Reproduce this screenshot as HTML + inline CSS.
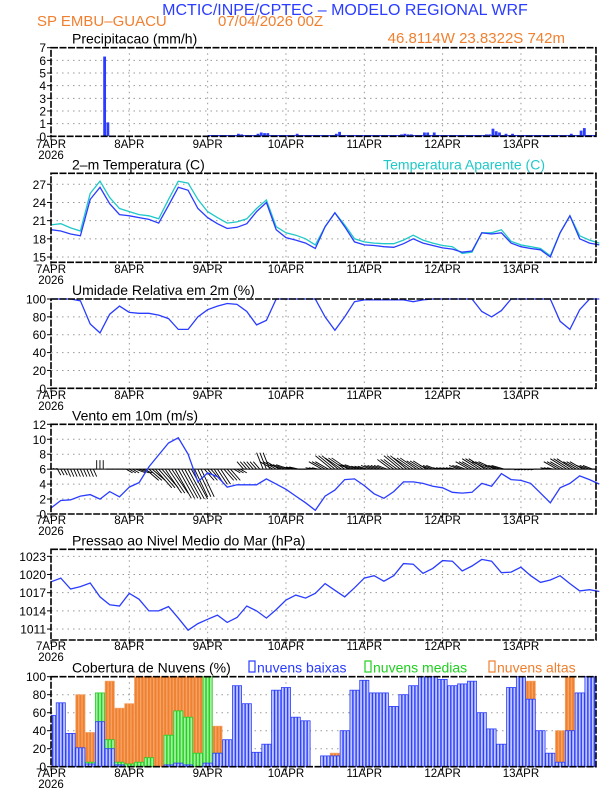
<!DOCTYPE html>
<html><head><meta charset="utf-8">
<style>
html,body{margin:0;padding:0;background:#fff;}
svg{display:block;font-family:"Liberation Sans",sans-serif;}
</style></head>
<body>
<svg id="chart" width="612" height="792" viewBox="0 0 612 792" xmlns="http://www.w3.org/2000/svg">
<text x="345" y="15" font-size="16" fill="#2a3cff" text-anchor="middle">MCTIC/INPE/CPTEC – MODELO REGIONAL WRF</text>
<text x="37" y="26" font-size="15" fill="#f08030">SP EMBU–GUACU</text>
<text x="218" y="26" font-size="15" fill="#f08030">07/04/2026 00Z</text>
<text x="565" y="43" font-size="15" fill="#f08030" text-anchor="end">46.8114W 23.8322S 742m</text>
<g id="plots"></g>
</svg>
<script>
// ---- data (time in hours from 07APR 00Z) ----
const hours3 = [0,3,6,9,12,15,18,21,24,27,30,33,36,39,42,45,48,51,54,57,60,63,66,69,72,75,78,81,84,87,90,93,96,99,102,105,108,111,114,117,120,123,126,129,132,135,138,141,144,147,150,153,156,159,162,165,168];
const dayLabels = ["7APR","8APR","9APR","10APR","11APR","12APR","13APR"];
const precipHours = [16,17,53,57,58,63,64,65,66,75,87,88,99,107,108,109,110,114,115,116,117,131,132,133,134,135,136,137,139,141,159,162,163];
const precipVals  = [6.3,1.1,0.1,0.2,0.15,0.2,0.3,0.25,0.25,0.2,0.2,0.35,0.1,0.15,0.2,0.15,0.15,0.3,0.3,0.1,0.3,0.1,0.1,0.15,0.15,0.6,0.4,0.3,0.2,0.2,0.2,0.45,0.65];
const tempVals = [19.5,19.3,18.8,18.5,24.5,26.5,23.8,22,21.8,21.5,21.2,20.6,23.5,26.5,26,23,21.5,20.5,19.7,19.9,20.5,22.5,24,19.5,18.2,17.8,17.3,16.4,20,22.3,20,17.5,17,16.9,16.7,16.6,17.2,18,17.3,16.9,16.5,16.3,15.8,16,19,18.8,19,17.3,16.7,16.4,16.2,15,19,21.8,18,17.3,17];
const appTempVals = [20.3,20.5,19.8,19.3,25.5,27.5,24.8,23,22.5,22,21.8,21.3,24.5,27.5,27.2,24.5,22.5,21.5,20.6,20.8,21.3,23,24.4,20,19,18.6,18,17,20,22.3,20.3,18,17.5,17.3,17.2,17.2,17.8,18.6,17.8,17.3,16.9,16.7,15.6,15.8,19,19,19.5,17.6,17,16.7,16.4,15.2,19,21.8,18.5,17.8,17.3];
const rhVals = [100,100,100,98,72,62,83,92,85,84,84,82,78,66,66,80,88,92,95,94,86,71,76,100,100,100,100,100,80,65,80,97,99,99,99,99,99,97,99,100,100,100,100,100,86,80,87,100,100,100,100,100,75,66,88,100,100];
const windSpeed = [0.8,1.8,1.9,2.4,2.6,2.0,3.0,2.3,3.6,4.2,6.3,7.9,9.5,10.2,8,4.3,5.5,5,3.6,3.9,3.9,3.9,4.7,4,3.3,2.4,1.5,0.5,2.4,3.2,4.6,4.7,3.8,2.7,2.1,3,4.3,4.3,4.1,3.7,3.5,2.9,2.8,2.9,4.1,3.7,5.4,4.6,4.5,4.1,2.8,1.5,3.5,4.1,5.1,4.6,4];
const windV = [0.1,-0.8,-1,-1,-1,1.2,0,0,-0.5,-0.5,-1.5,-2.5,-3.2,-3.9,-4,-3.7,-1.5,-2,-1.5,-0.5,1,1,2.2,1,0.6,0.3,0,0.2,1,1.8,1.5,0.6,0.4,0.5,0.5,1.3,1.8,1.5,1.1,0.5,0.2,0.2,0.5,1,1.4,1,0.5,0,-0.1,-0.1,0,0.2,1,1.4,1,0.5,0];
const windU = [0.5,0.5,0.5,0.5,0.5,0,0.5,0.5,1,1.5,2,2.5,2.5,2.5,2.5,2,1.5,1.5,1.5,1,-1,-1,-1,-2,-2,-1.5,-1,-1,-2,-2.5,-2.5,-2,-1.5,-1.5,-1.5,-2,-2.5,-2.5,-2,-1.5,-1,-1,-1.5,-2,-2.5,-2.5,-2,-1,-0.5,-0.5,-0.5,-1,-2,-2.5,-2,-1.5,-1];
const pressVals = [1018.8,1019.4,1017.6,1018,1018.6,1016.3,1015,1014.8,1016.9,1015.9,1014,1014,1014.7,1012.8,1010.8,1011.9,1012.6,1013.3,1012.1,1012.9,1014.8,1014,1012.8,1014.2,1015.8,1016.6,1016.1,1016.9,1018.5,1017.4,1016.3,1017.8,1019.4,1019.8,1018.9,1019.8,1021.8,1021.7,1020.2,1021,1022.3,1022.2,1020.6,1021.4,1022.5,1022.2,1020.3,1020.4,1021.2,1019.8,1018.7,1019.1,1019.8,1018.5,1017.3,1017.5,1017.2];
const cloudLow = [57,71,37,21,3,50,20,2,0,0,0,0,2,4,2,0,4,15,30,90,70,16,25,85,88,55,51,0,12,12,40,85,96,82,82,67,80,90,100,100,97,90,92,95,60,42,25,88,100,75,40,15,5,40,82,100,100];
const cloudMid = [0,8,20,12,5,82,30,5,3,5,10,0,35,62,55,15,100,15,0,0,0,0,0,0,0,0,0,0,0,0,0,0,0,0,0,0,0,0,0,0,0,0,0,0,0,0,3,3,0,0,0,0,0,0,0,0,0];
const cloudHigh = [0,10,20,80,38,40,95,65,70,100,100,100,100,100,100,100,100,45,0,0,0,0,0,0,0,0,0,0,0,15,0,0,0,0,0,0,0,0,0,0,0,0,0,0,0,0,0,0,0,95,20,0,40,100,5,88,100];

// ---- layout ----
const NS = "http://www.w3.org/2000/svg";
const X0 = 51, X1 = 596, HMAX = 167;
const PXH = (X1-X0)/HMAX;
function xs(h){ return X0 + h*PXH; }
function mk(tag, attrs, parent){
  const e = document.createElementNS(NS, tag);
  for (const k in attrs) e.setAttribute(k, attrs[k]);
  (parent||document.getElementById('plots')).appendChild(e);
  return e;
}
function panel(name, top, bot, vmin, vmax, ticks, title, lblY){
  const g = mk('g', {});
  
  
  const ys = v => bot - (v - vmin)/(vmax - vmin)*(bot - top);
  ticks.forEach(t => {
    const y = ys(t);
    if (y > top+1 && y < bot-1) {
      const l = mk('line', {x1:X0, x2:X1, y1:y, y2:y, stroke:'#999', 'stroke-dasharray':'1.5,4', 'stroke-width':1}, g);
      
      
    }
    mk('line', {x1:X0-4, x2:X0, y1:y, y2:y, stroke:'#000'}, g);
    const tx = mk('text', {x:X0-5, y:y+4.5, 'font-size':12, 'text-anchor':'end', fill:'#000'}, g);
    tx.textContent = t;
    
    
  });
  dayLabels.forEach((d, i) => {
    const x = xs(i*24);
    if (i > 0) {
      const l = mk('line', {x1:x, x2:x, y1:top, y2:bot, stroke:'#999', 'stroke-dasharray':'1.5,4'}, g);
      
      
    }
    mk('line', {x1:x, x2:x, y1:bot, y2:bot+4, stroke:'#000'}, g);
    const tx = mk('text', {x:x, y:lblY, 'font-size':11.5, 'text-anchor':'middle', fill:'#000'}, g);
    tx.textContent = d;
    
    
  });
  const yr = mk('text', {x:X0, y:lblY+11, 'font-size':11.5, 'text-anchor':'middle', fill:'#000'}, g);
  yr.textContent = '2026';
  
  
  const tt = mk('text', {x:72, y:top-4, 'font-size':14, fill:'#000'}, g);
  tt.textContent = title;
  
  
  return {g, ys, top, bot};
}
function frame(p){
  const r = mk('rect', {x:X0, y:p.top, width:X1-X0, height:p.bot-p.top, fill:'none', stroke:'#000', 'stroke-width':1.6, 'stroke-dasharray':'7,1.5'}, p.g);
  
  
}
function line(p, vals, color, name){
  const d = vals.map((v,i) => (i?'L':'M') + xs(hours3[i]).toFixed(1) + ',' + p.ys(v).toFixed(1)).join(' ');
  const pa = mk('path', {d:d, fill:'none', stroke:color, 'stroke-width':1.3}, p.g);
  
  
}
const clip = mk('clipPath', {id:'cl'});
mk('rect', {x:X0, y:0, width:X1-X0, height:792}, clip);

// Precip
const pP = panel('precipitation', 47.7, 136.3, 0, 7, [0,1,2,3,4,5,6,7], 'Precipitacao (mm/h)', 148);
mk('line', {x1:xs(48), x2:X1, y1:135.6, y2:135.6, stroke:'#2a3cff', 'stroke-width':1.2}, pP.g);
precipHours.forEach((h,i) => {
  const y = pP.ys(precipVals[i]);
  const b = mk('rect', {x:xs(h), y:y, width:2.8, height:pP.bot-y, fill:'#2a3cff'}, pP.g);
  
  
});
frame(pP);

// Temperature
const pT = panel('temperature', 173.3, 262.3, 14.13, 28.81, [15,18,21,24,27], '2–m Temperatura (C)', 273);
const at = mk('text', {x:545, y:169.3, 'font-size':14, 'text-anchor':'end', fill:'#20c8c8'}, pT.g);
at.textContent = 'Temperatura Aparente (C)';


line(pT, appTempVals, '#20c8c8', 'apparent-temp-line');
line(pT, tempVals, '#2a3cff', 'temp-line');
frame(pT);

// RH
const pR = panel('humidity', 299, 388.3, 0, 100, [0,20,40,60,80,100], 'Umidade Relativa em 2m (%)', 399);
line(pR, rhVals, '#2a3cff', 'rh-line');
frame(pR);

// Wind
const pW = panel('wind', 424.3, 514, 0, 12, [0,2,4,6,8,10,12], 'Vento em 10m (m/s)', 524);
hours3.forEach((h,i) => {
  for (let k = -1; k <= 1; k++) {
    const x1 = xs(h + k), y1 = pW.ys(6);
    const x2 = xs(h + k + windU[i]*2), y2 = pW.ys(6 + windV[i]);
    const a = mk('line', {x1:x1, y1:y1, x2:x2, y2:y2, stroke:'#000', 'stroke-width':0.9, 'clip-path':'url(#cl)'}, pW.g);
    
    
  }
});
mk('line', {x1:X0, x2:X1, y1:pW.ys(6), y2:pW.ys(6), stroke:'#000', 'stroke-width':1}, pW.g);
line(pW, windSpeed, '#2a3cff', 'wind-speed-line');
frame(pW);

// Pressure
const pS = panel('pressure', 549.3, 640, 1009.19, 1024.16, [1011,1014,1017,1020,1023], 'Pressao ao Nivel Medio do Mar (hPa)', 650);
line(pS, pressVals, '#2a3cff', 'pressure-line');
frame(pS);

// Clouds
const pC = panel('clouds', 676.7, 766.7, 0, 100, [0,20,40,60,80,100], 'Cobertura de Nuvens (%)', 777);
const legs = [['nuvens baixas','#2a3cff',257],['nuvens medias','#20d020',373],['nuvens altas','#f08030',497]];
legs.forEach(l => {
  mk('rect', {x:l[2]-8, y:661, width:6, height:11, fill:'none', stroke:l[1], 'stroke-width':1.2}, pC.g);
  const t = mk('text', {x:l[2], y:672.7, 'font-size':14, fill:l[1]}, pC.g);
  t.textContent = l[0];
  
  
});
function bars(vals, fill, stroke, name){
  hours3.forEach((h,i) => {
    if (vals[i] <= 0) return;
    const y = pC.ys(vals[i]);
    for (let k = -1; k <= 1; k++) {
      const b = mk('rect', {x:xs(h+k)-PXH*0.4, y:y, width:PXH*0.8, height:pC.bot-y, fill:fill, stroke:stroke, 'stroke-width':0.8, 'clip-path':'url(#cl)'}, pC.g);
      
      
    }
  });
}
bars(cloudHigh, '#f08030', '#f4a060', 'high-cloud-bar');
bars(cloudMid, '#a0f0a0', '#20d020', 'mid-cloud-bar');
bars(cloudLow, '#c0c8ff', '#2a3cff', 'low-cloud-bar');
frame(pC);
</script>
</body></html>
